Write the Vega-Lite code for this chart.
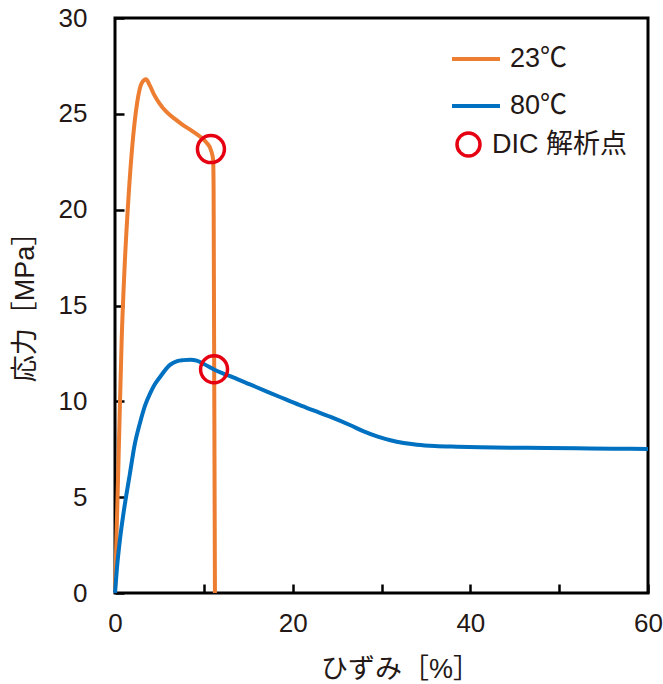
{
  "$schema": "https://vega.github.io/schema/vega-lite/v6.json",
  "width": 533,
  "height": 575,
  "autosize": {"type": "none"},
  "padding": {"left": 115, "top": 18, "right": 15, "bottom": 91},
  "background": "white",
  "config": {
    "view": {"stroke": "#000000", "strokeWidth": 3},
    "axis": {
      "grid": false,
      "domain": false,
      "ticks": true,
      "zindex": 1,
      "labelFlush": false,
      "labelFont": "Liberation Sans, Noto Sans CJK JP",
      "labelFontSize": 26,
      "labelColor": "#231815",
      "tickColor": "#000000",
      "tickWidth": 2.5,
      "titleFont": "Liberation Sans, Noto Sans CJK JP",
      "titleFontSize": 27,
      "titleFontWeight": "normal",
      "titleColor": "#231815"
    }
  },
  "datasets": {
    "curves": [
      {"series": "23℃", "strain": 0, "stress": 0},
      {"series": "23℃", "strain": 0.4, "stress": 7.0},
      {"series": "23℃", "strain": 0.75, "stress": 13.2},
      {"series": "23℃", "strain": 1.1, "stress": 17.2},
      {"series": "23℃", "strain": 1.5, "stress": 20.5},
      {"series": "23℃", "strain": 2.0, "stress": 23.6},
      {"series": "23℃", "strain": 2.5, "stress": 25.6},
      {"series": "23℃", "strain": 3.0, "stress": 26.6},
      {"series": "23℃", "strain": 3.5, "stress": 26.8},
      {"series": "23℃", "strain": 3.9, "stress": 26.5},
      {"series": "23℃", "strain": 4.4, "stress": 26.0},
      {"series": "23℃", "strain": 5.0, "stress": 25.55},
      {"series": "23℃", "strain": 5.8, "stress": 25.1},
      {"series": "23℃", "strain": 6.7, "stress": 24.75},
      {"series": "23℃", "strain": 7.7, "stress": 24.4},
      {"series": "23℃", "strain": 8.7, "stress": 24.1},
      {"series": "23℃", "strain": 9.6, "stress": 23.8},
      {"series": "23℃", "strain": 10.3, "stress": 23.5},
      {"series": "23℃", "strain": 10.8, "stress": 23.1},
      {"series": "23℃", "strain": 11.05, "stress": 22.6},
      {"series": "23℃", "strain": 11.1, "stress": 21.0},
      {"series": "23℃", "strain": 11.25, "stress": 0},
      {"series": "80℃", "strain": 0, "stress": 0},
      {"series": "80℃", "strain": 0.2, "stress": 1.2},
      {"series": "80℃", "strain": 0.56, "stress": 2.8},
      {"series": "80℃", "strain": 1.0, "stress": 4.3},
      {"series": "80℃", "strain": 1.69, "stress": 6.26},
      {"series": "80℃", "strain": 2.2, "stress": 7.7},
      {"series": "80℃", "strain": 2.81, "stress": 8.87},
      {"series": "80℃", "strain": 3.4, "stress": 9.8},
      {"series": "80℃", "strain": 3.94, "stress": 10.4},
      {"series": "80℃", "strain": 4.5, "stress": 10.9},
      {"series": "80℃", "strain": 5.07, "stress": 11.27},
      {"series": "80℃", "strain": 6.19, "stress": 11.9},
      {"series": "80℃", "strain": 7.0, "stress": 12.1},
      {"series": "80℃", "strain": 7.7, "stress": 12.15},
      {"series": "80℃", "strain": 8.5, "stress": 12.17},
      {"series": "80℃", "strain": 9.2, "stress": 12.12},
      {"series": "80℃", "strain": 10.0, "stress": 11.95},
      {"series": "80℃", "strain": 11.2, "stress": 11.65},
      {"series": "80℃", "strain": 12.2, "stress": 11.45},
      {"series": "80℃", "strain": 13.3, "stress": 11.25},
      {"series": "80℃", "strain": 15.2, "stress": 10.88},
      {"series": "80℃", "strain": 17.1, "stress": 10.51},
      {"series": "80℃", "strain": 18.5, "stress": 10.24},
      {"series": "80℃", "strain": 20.8, "stress": 9.8},
      {"series": "80℃", "strain": 22.5, "stress": 9.5},
      {"series": "80℃", "strain": 24.2, "stress": 9.2},
      {"series": "80℃", "strain": 26.5, "stress": 8.75},
      {"series": "80℃", "strain": 28.0, "stress": 8.43},
      {"series": "80℃", "strain": 29.5, "stress": 8.17},
      {"series": "80℃", "strain": 31.0, "stress": 7.97},
      {"series": "80℃", "strain": 32.5, "stress": 7.83},
      {"series": "80℃", "strain": 34.0, "stress": 7.74},
      {"series": "80℃", "strain": 36.0, "stress": 7.67},
      {"series": "80℃", "strain": 38.5, "stress": 7.63},
      {"series": "80℃", "strain": 41.1, "stress": 7.6},
      {"series": "80℃", "strain": 45.0, "stress": 7.58},
      {"series": "80℃", "strain": 48.6, "stress": 7.56},
      {"series": "80℃", "strain": 52.0, "stress": 7.55},
      {"series": "80℃", "strain": 56.1, "stress": 7.53},
      {"series": "80℃", "strain": 60.0, "stress": 7.51}
    ],
    "dic": [
      {"kind": "DIC 解析点", "strain": 10.8, "stress": 23.16},
      {"kind": "DIC 解析点", "strain": 11.15, "stress": 11.67}
    ]
  },
  "layer": [
    {
      "data": {"name": "curves"},
      "mark": {"type": "line", "strokeWidth": 4, "interpolate": "monotone"},
      "encoding": {
        "x": {
          "field": "strain",
          "type": "quantitative",
          "scale": {"domain": [0, 60], "nice": false, "zero": false},
          "axis": {
            "title": "ひずみ［%］",
            "values": [0, 10, 20, 30, 40, 50, 60],
            "labelExpr": "datum.value % 20 === 0 ? datum.label : ''",
            "tickSize": -9,
            "labelPadding": 26,
            "titlePadding": 20,
            "titleX": 285,
            "encode": {
              "ticks": {
                "update": {
                  "y2": {"signal": "datum.value % 20 === 0 ? -9 : -6"}
                }
              }
            }
          }
        },
        "y": {
          "field": "stress",
          "type": "quantitative",
          "scale": {"domain": [0, 30], "nice": false},
          "axis": {
            "title": "応力［MPa］",
            "values": [0, 5, 10, 15, 20, 25, 30],
            "tickSize": -9,
            "labelPadding": 37,
            "titlePadding": 19,
            "titleY": 282
          }
        },
        "color": {
          "field": "series",
          "type": "nominal",
          "scale": {"domain": ["23℃", "80℃"], "range": ["#ED7D31", "#0070C0"]},
          "legend": {
            "orient": "none",
            "legendX": 335,
            "legendY": 15,
            "title": null,
            "padding": 0,
            "symbolType": "stroke",
            "symbolSize": 2304,
            "symbolStrokeWidth": 4,
            "labelFont": "Liberation Sans, Noto Sans CJK JP",
            "labelFontSize": 27,
            "labelColor": "#231815",
            "labelOffset": 8,
            "rowPadding": 8
          }
        }
      }
    },
    {
      "data": {"name": "dic"},
      "mark": {"type": "point", "filled": false, "stroke": "#E50012", "strokeWidth": 3.5, "size": 729, "opacity": 1},
      "encoding": {
        "x": {"field": "strain", "type": "quantitative"},
        "y": {"field": "stress", "type": "quantitative"},
        "shape": {
          "field": "kind",
          "type": "nominal",
          "scale": {"domain": ["DIC 解析点"], "range": ["circle"]},
          "legend": {
            "orient": "none",
            "legendX": 340,
            "legendY": 113,
            "title": null,
            "padding": 0,
            "symbolSize": 529,
            "symbolStrokeWidth": 3.5,
            "symbolStrokeColor": "#E50012",
            "symbolFillColor": "transparent",
            "labelFont": "Liberation Sans, Noto Sans CJK JP",
            "labelFontSize": 27,
            "labelColor": "#231815",
            "labelOffset": 10
          }
        }
      }
    }
  ]
}
